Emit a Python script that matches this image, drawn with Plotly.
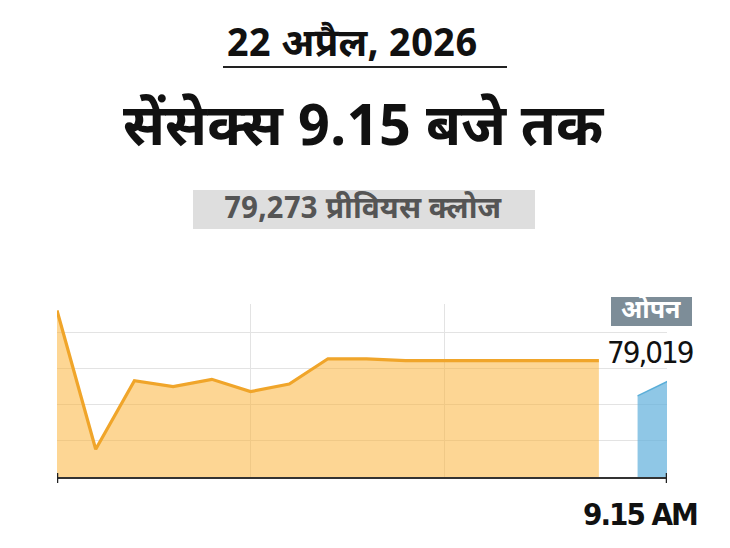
import plotly.graph_objects as go

# Data (arbitrary units read from pixel heights; gridline step = 1)
minutes = list(range(15))  # 9:00 .. 9:14 pre-open ticks
sensex_values = [4.62, 0.77, 2.67, 2.51, 2.71, 2.37, 2.58, 3.28, 3.28, 3.23,
                 3.23, 3.23, 3.23, 3.23, 3.23]
open_x = [15, 15.84]
open_values = [2.25, 2.69]

date_title = "22 अप्रैल, 2026"
main_title = "सेंसेक्स 9.15 बजे तक"
prev_close = "79,273 प्रीवियस क्लोज"
open_tag = "ओपन"
open_value = "79,019"
x_label = "9.15 AM"

W, H = 730, 548
OFF = 8  # page body offset
PL, PR, PT, PB = 57, 667, 304, 477  # plot area in reference pixels
L = PL - OFF
T = PT - OFF
R = W - (PR - OFF)
B = H - (PB - OFF)
PW, PH = PR - PL, PB - PT

def px(x):
    return (x - PL) / PW

def py(y):
    return (PB - y) / PH

DEV = "Noto Sans Devanagari, Noto Sans, Lohit Devanagari, sans-serif"
NARROW = "DejaVu Sans"
COND = "font-stretch:condensed;letter-spacing:-2px"

fig = go.Figure()
fig.add_trace(go.Scatter(
    x=minutes, y=sensex_values, mode="lines",
    line=dict(color="#f0a52a", width=3.2),
    fill="tozeroy", fillcolor="rgba(251,180,60,0.55)",
    hoverinfo="skip", showlegend=False))
fig.add_trace(go.Scatter(
    x=open_x, y=open_values, mode="lines",
    line=dict(color="#5aaed8", width=1.5),
    fill="tozeroy", fillcolor="rgba(100,178,220,0.72)",
    hoverinfo="skip", showlegend=False))

fig.update_layout(
    width=W, height=H,
    margin=dict(l=L, r=R, t=T, b=B),
    paper_bgcolor="white", plot_bgcolor="white",
    xaxis=dict(range=[0, 15.76], showgrid=True, gridcolor="#e3e3e3", gridwidth=1,
               tickvals=[5, 10], showticklabels=False, ticks="",
               zeroline=False, showline=True, linecolor="#333333", linewidth=2,
               fixedrange=True),
    yaxis=dict(range=[0, 4.8], showgrid=True, gridcolor="#e3e3e3", gridwidth=1,
               tickvals=[1, 2, 3, 4], showticklabels=False, ticks="",
               zeroline=False, showline=False, fixedrange=True),
)

shapes = []
for xv in [0, 15.76]:
    shapes.append(dict(type="line", xref="x", yref="paper", x0=xv, x1=xv,
                       y0=py(473), y1=py(483), line=dict(color="#222", width=2.5)))
shapes.append(dict(type="line", xref="paper", yref="paper", x0=px(223), x1=px(507),
                   y0=py(67), y1=py(67), line=dict(color="#222", width=2)))
shapes.append(dict(type="rect", xref="paper", yref="paper", x0=px(193), x1=px(535),
                   y0=py(229), y1=py(190), fillcolor="#dedede", line=dict(width=0),
                   layer="below"))
shapes.append(dict(type="rect", xref="paper", yref="paper", x0=px(611), x1=px(692),
                   y0=py(326), y1=py(297), fillcolor="#7d8d98", line=dict(width=0),
                   layer="below"))
fig.update_layout(shapes=shapes)

ann = [
    dict(text=f"<b>{date_title}</b>", x=px(352), y=py(46), font=dict(size=39, color="#111", family=DEV)),
    dict(text=f"<b>{main_title}</b>", x=px(364), y=py(130), font=dict(size=57, color="#111", family=DEV)),
    dict(text=f"<b>{prev_close}</b>", x=px(363), y=py(210), font=dict(size=30, color="#555", family=DEV)),
    dict(text=f"<b>{open_tag}</b>", x=px(651), y=py(311), font=dict(size=25, color="white", family=DEV)),
    dict(text=f'<span style="{COND}">{open_value}</span>', x=px(650), y=py(352),
         font=dict(size=31, color="#111", family=NARROW)),
    dict(text=f'<span style="{COND}"><b>{x_label}</b></span>', x=px(640), y=py(514),
         font=dict(size=31, color="#111", family=NARROW)),
]
for a in ann:
    a.update(xref="paper", yref="paper", showarrow=False, xanchor="center", yanchor="middle")
fig.update_layout(annotations=ann)

fig.write_html("out.html")
